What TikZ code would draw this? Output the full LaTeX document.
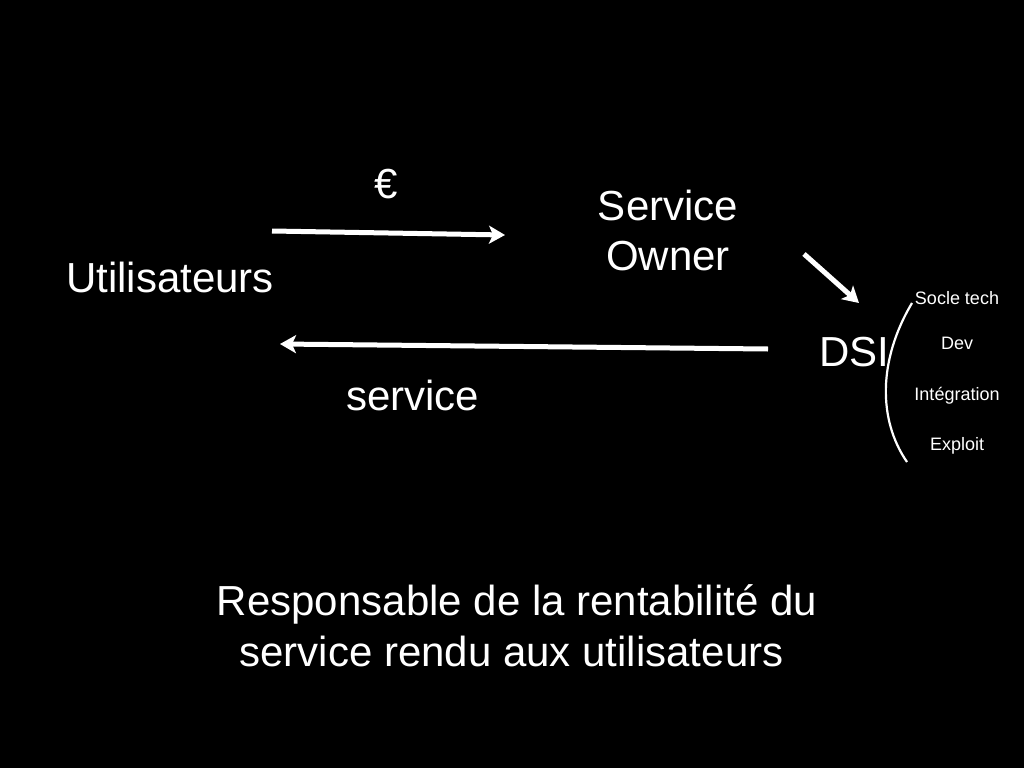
\documentclass[tikz,border=0pt]{standalone}
\usepackage{fontspec}
\setmainfont{Liberation Sans}
\usetikzlibrary{arrows.meta}
\begin{document}
\begin{tikzpicture}[x=1pt,y=-1pt,
  big/.style={text=white,inner sep=0pt,font=\fontsize{42}{50}\selectfont},
  small/.style={text=white,inner sep=0pt,font=\fontsize{18}{22}\selectfont},
  flow/.style={draw=white,line width=5pt,-{Stealth[length=16pt 0,width=18pt 0,inset=4pt]}}]
\fill[black] (0,0) rectangle (1024,768);
\useasboundingbox (0,0) rectangle (1024,768);
% texts
\node[big,anchor=base west] (users) at (66,292) {Utilisateurs};
\node[big,anchor=base] (euro) at (386,198) {€};
\node[big,anchor=base] (so1) at (668,220) {Service};
\node[big,anchor=base] (so2) at (668,270) {Owner};
\node[big,anchor=base west] (dsi) at (819,366) {DSI};
\node[big,anchor=base west] (serv) at (346,410) {service};
\node[small,anchor=base] (socle) at (957,304) {Socle tech};
\node[small,anchor=base] (dev) at (957,349) {Dev};
\node[small,anchor=base] (integ) at (957,400) {Intégration};
\node[small,anchor=base] (expl) at (957,450) {Exploit};
\node[big,anchor=base] (r1) at (517,615) {Responsable de la rentabilité du};
\node[big,anchor=base] (r2) at (511.5,666) {service rendu aux utilisateurs};
% connector end points
\coordinate (a1) at (272,231);
\coordinate (a2) at (505,235);
\coordinate (b1) at (768,349);
\coordinate (b2) at (280,344);
\coordinate (c1) at (804,254);
\coordinate (c2) at (859,303);
\coordinate (d1) at (912,303);
\coordinate (d2) at (907,462);
\draw[flow] (a1) -- (a2);
\draw[flow] (b1) -- (b2);
\draw[flow] (c1) -- (c2);
\draw[white,line width=2.2pt] (d1) .. controls (878,360) and (878,420) .. (d2);
\end{tikzpicture}
\end{document}
